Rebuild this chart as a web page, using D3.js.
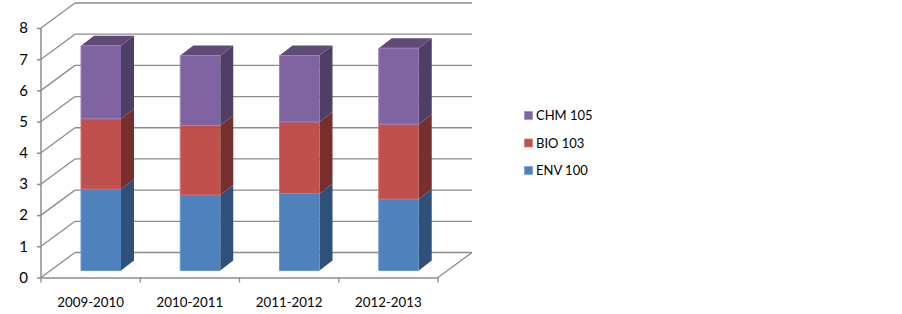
<!DOCTYPE html>
<html><head><meta charset="utf-8">
<script src="https://cdn.jsdelivr.net/npm/d3@7"></script>
<style>html,body{margin:0;padding:0;background:#fff}svg{display:block}text{font-family:Lato,"Open Sans",sans-serif;fill:#000}</style>
</head><body><div id="c"></div>
<script>
const categories = ["2009-2010","2010-2011","2011-2012","2012-2013"];
const seriesNames = ["ENV 100","BIO 103","CHM 105"];
const env100 = [2.61,2.42,2.47,2.29];
const bio103 = [2.25,2.23,2.29,2.40];
const chm105 = [2.35,2.24,2.13,2.44];
const yTicks = [0,1,2,3,4,5,6,7,8];
const front = ["#4f81bd","#c0504d","#8064a2"];
const side = ["#2f5078","#772f2d","#4f3e66"];
const topc = ["#3a6190","#8f3a38","#5f4a78"];
const edge = ["#6a97cf","#d66e6b","#9c82bd"];

const W=902,H=314;
const svg=d3.select("#c").append("svg").attr("width",W).attr("height",H);
const x=d3.scaleBand().domain(categories).range([41,438]);
const y=d3.scaleLinear().domain([0,8]).range([277.5,28]);
const wallDx=34, wallDy=-25, barDx=13, barDy=-10, barOff=40, barRise=-7, barW=40;
const grid="#8c8c8c";

const g=svg.append("g").attr("stroke",grid).attr("stroke-width",1.3).attr("fill","none");
g.selectAll(".h").data(yTicks).join("line")
  .attr("x1",41+wallDx).attr("x2",438+wallDx)
  .attr("y1",d=>y(d)+wallDy).attr("y2",d=>y(d)+wallDy);
g.selectAll(".d").data(yTicks).join("line")
  .attr("x1",41).attr("x2",41+wallDx)
  .attr("y1",d=>y(d)).attr("y2",d=>y(d)+wallDy);
g.append("line").attr("x1",438).attr("y1",y(0)).attr("x2",438+wallDx).attr("y2",y(0)+wallDy);

const yAxis=d3.axisLeft(y).tickValues(yTicks).tickSize(4).tickPadding(9);
const ya=svg.append("g").attr("transform","translate(41,0)").call(yAxis);
ya.selectAll("path,line").attr("stroke",grid).attr("stroke-width",1.5);
ya.selectAll("text").attr("font-size",15).style("font-family","Lato,sans-serif");
ya.select(".domain").attr("d",`M0,${y(8)}V${y(0)}`);

const xAxis=d3.axisBottom(x).tickSize(0).tickPadding(20);
const xa=svg.append("g").attr("transform",`translate(0,${y(0)})`).call(xAxis);
xa.selectAll("path").attr("stroke",grid).attr("stroke-width",1.5);
xa.selectAll("text").attr("font-size",13.3).style("font-family","Lato,sans-serif");
const xt=svg.append("g").attr("stroke",grid).attr("stroke-width",1.3);
xt.selectAll("line").data(d3.range(categories.length+1)).join("line")
  .attr("x1",i=>41+i*x.bandwidth()).attr("x2",i=>41+i*x.bandwidth())
  .attr("y1",y(0)).attr("y2",y(0)+5);

const values=[env100,bio103,chm105];
const stack=categories.map((c,i)=>{let s=0;return values.map((v,k)=>{const r={c,k,y0:s,y1:s+v[i]};s+=v[i];return r;});});
const bars=svg.append("g");
stack.forEach(col=>{
  col.forEach(d=>{
    const x0=x(d.c)+barOff, x1=x0+barW;
    const b=y(d.y0)+barRise, t=y(d.y1)+barRise;
    const gg=bars.append("g");
    gg.append("polygon").attr("fill",side[d.k])
      .attr("points",[[x1,b],[x1+barDx,b+barDy],[x1+barDx,t+barDy],[x1,t]].join(" "));
    gg.append("rect").attr("x",x0).attr("y",t).attr("width",barW).attr("height",b-t).attr("fill",front[d.k]);
    gg.append("path").attr("d",`M${x0},${b}H${x1}`).attr("stroke",edge[d.k]).attr("stroke-width",1).attr("fill","none");
    gg.append("path").attr("d",`M${x0},${b}V${t}`).attr("stroke",edge[d.k]).attr("stroke-width",1).attr("fill","none");
    if(d.k===2){
      gg.append("polygon").attr("fill",topc[d.k])
        .attr("points",[[x0,t],[x0+barDx,t+barDy],[x1+barDx,t+barDy],[x1,t]].join(" "));
      gg.append("path").attr("d",`M${x0},${t}H${x1}`).attr("stroke",edge[d.k]).attr("stroke-width",1).attr("fill","none");
    }
  });
});

const legY=d3.scalePoint().domain(seriesNames.slice().reverse()).range([115.5,170.5]);
const leg=svg.append("g");
seriesNames.forEach((n,k)=>{
  leg.append("rect").attr("x",524.5).attr("y",legY(n)-4).attr("width",8).attr("height",8).attr("fill",front[k]).attr("stroke",edge[k]).attr("stroke-width",.6);
  leg.append("text").attr("x",536).attr("y",legY(n)).attr("dy","0.36em").attr("font-size",13).text(n);
});
</script></body></html>
